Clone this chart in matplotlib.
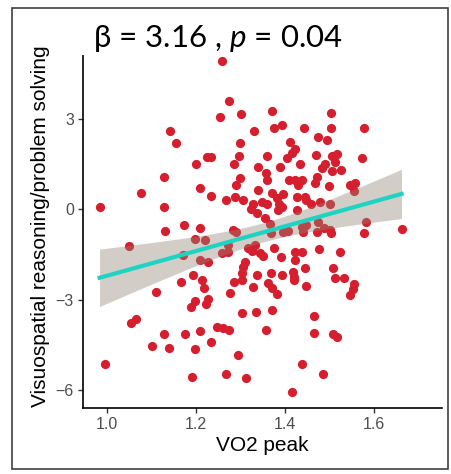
import numpy as np
import matplotlib
matplotlib.use("Agg")
import matplotlib.pyplot as plt
from matplotlib.patches import Rectangle

# VO2 peak vs visuospatial reasoning score
vo2 = [
    1.143, 1.156, 1.201, 1.258, 1.274, 1.253, 1.301, 1.371, 1.330, 1.376,
    1.393, 1.443, 1.300, 1.410, 1.226, 1.235, 1.296, 1.360, 1.422, 1.416,
    1.404, 1.286, 1.339, 1.389, 1.433, 1.503, 1.504, 1.578, 1.474, 1.494,
    1.469, 1.505, 1.516, 1.511, 1.572, 1.489, 1.483, 1.505, 1.526,
    1.128, 1.076, 0.984, 1.128, 1.210, 1.131, 1.173, 1.210, 1.050, 1.197,
    1.171, 1.209, 1.193, 1.167,
    1.111, 1.197, 1.190, 1.065, 1.054, 1.128, 1.176, 1.209, 1.102, 1.140,
    1.197, 0.997, 1.191,
    1.218, 1.286, 1.304, 1.329, 1.361, 1.370, 1.381, 1.276, 1.228, 1.222,
    1.304, 1.334, 1.370, 1.247, 1.261, 1.274, 1.357, 1.233, 1.294, 1.267,
    1.312, 1.439, 1.416, 1.419,
    1.448, 1.513, 1.533, 1.552, 1.546, 1.464, 1.465, 1.507, 1.516, 1.485,
    1.299, 1.291, 1.357, 1.359, 1.409, 1.422, 1.430, 1.235, 1.267, 1.288,
    1.306, 1.340, 1.371, 1.381, 1.396, 1.426, 1.445, 1.329, 1.324, 1.348,
    1.359, 1.336, 1.386, 1.394, 1.385, 1.426, 1.355, 1.366, 1.283, 1.291,
    1.368, 1.396, 1.407, 1.439, 1.441, 1.220, 1.273, 1.333, 1.317, 1.326,
    1.376, 1.258, 1.273, 1.228, 1.309, 1.306, 1.344, 1.351, 1.391, 1.422,
    1.439, 1.422, 1.303, 1.336, 1.368, 1.394, 1.418, 1.421, 1.213,
    1.438, 1.472, 1.468, 1.498, 1.546, 1.557, 1.554, 1.447, 1.457, 1.479,
    1.501, 1.447, 1.474, 1.472, 1.487, 1.501, 1.504, 1.581, 1.576, 1.661,
    1.477, 1.524, 1.445, 1.507, 1.554,
]
score = [
    2.60, 2.19, 1.50, 4.93, 3.60, 3.06, 3.16, 3.26, 2.61, 2.71,
    2.80, 2.70, 2.20, 2.25, 1.75, 1.75, 1.78, 1.78, 2.00, 1.88,
    1.69, 1.50, 1.42, 1.40, 1.50, 3.21, 2.69, 2.71, 2.39, 2.30,
    1.79, 1.77, 1.84, 1.58, 1.69, 1.50, 1.37, 1.27, 1.31,
    1.08, 0.53, 0.09, 0.09, 0.70, -0.72, -0.52, -0.61, -1.21, -0.99,
    -1.52, -1.70, -2.18, -2.42,
    -2.74, -3.04, -3.24, -3.64, -3.79, -4.14, -4.14, -4.04, -4.54, -4.60,
    -4.65, -5.15, -5.56,
    -2.62, -2.41, -2.35, -2.57, -2.46, -2.62, -2.81, -2.79, -2.99, -3.15,
    -3.44, -3.40, -3.35, -3.90, -3.95, -4.01, -4.01, -4.40, -4.84, -5.47,
    -5.59, -5.15, -6.07, -2.35,
    -2.54, -2.28, -2.28, -2.65, -2.84, -3.53, -4.10, -4.14, -4.25, -5.46,
    1.03, 0.81, 1.20, 0.97, 0.97, 0.97, 0.81, 0.45, 0.31, 0.42,
    0.31, 0.64, 0.53, 0.39, 0.50, 0.42, 0.42, 0.18, 0.01, 0.25,
    0.17, -0.13, 0.17, 0.09, -0.02, -0.02, -0.30, -0.50, -0.69, -0.74,
    -0.80, -0.74, -0.72, -0.58, -0.74, -1.02, -1.19, -1.19, -1.30, -1.39,
    -1.30, -1.46, -1.43, -1.76, -1.74, -1.91, -1.46, -1.54, -1.57, -1.43,
    -1.43, -1.68, -2.13, -2.18, -2.13, -2.18, -2.07, -2.24, -2.35,
    0.97, 1.08, 0.86, 0.78, 0.81, 0.86, 0.61, 0.31, 0.17, 0.23,
    0.17, -0.52, -0.41, -0.74, -0.63, -0.69, -0.80, -0.43, -0.80, -0.66,
    -1.32, -1.43, -1.94, -1.96, -2.49,
]

x_ticks = [1.0, 1.2, 1.4, 1.6]
y_ticks = [-6, -3, 0, 3]

plt.rcParams["font.family"] = ["Liberation Sans", "DejaVu Sans"]
plt.rcParams["mathtext.fontset"] = "custom"
plt.rcParams["mathtext.rm"] = "Lato"
plt.rcParams["mathtext.it"] = "Lato:italic"

x = np.array(vo2)
y = np.array(score)

# linear fit with 95% confidence band (like geom_smooth(method = "lm"))
slope, intercept = np.polyfit(x, y, 1)
xs = np.linspace(x.min(), x.max(), 100)
fit = intercept + slope * xs
n = len(x)
resid = y - (intercept + slope * x)
s = np.sqrt(np.sum(resid ** 2) / (n - 2))
sxx = np.sum((x - x.mean()) ** 2)
se = s * np.sqrt(1 / n + (xs - x.mean()) ** 2 / sxx)
t = 1.97

W, H = 451, 474
fig = plt.figure(figsize=(W / 100, H / 100), dpi=100)
ax = fig.add_axes([83 / W, 1 - 408 / H, (442 - 83) / W, (408 - 44) / H])

ax.scatter(x, y, s=44, color="#D51F2E", linewidths=0, zorder=2)
ax.fill_between(xs, fit - t * se, fit + t * se, color="#918473", alpha=0.4,
                linewidth=0, zorder=3)
ax.plot(xs, fit, color="#1FD3C3", linewidth=3, zorder=4)

ax.set_xlim(0.9469, 1.7518)
ax.set_ylim(-6.60, 5.49)
ax.set_xticks(x_ticks)
ax.set_xticklabels([f"{v:.1f}" for v in x_ticks])
ax.set_yticks(y_ticks)
ax.set_yticklabels([f"\u2212{abs(v)}" if v < 0 else str(v) for v in y_ticks])
ax.tick_params(colors="#333333", labelcolor="#4D4D4D", labelsize=11.5,
               length=3.5, width=1, pad=3)
for side in ["top", "right"]:
    ax.spines[side].set_visible(False)
for side in ["left", "bottom"]:
    ax.spines[side].set_linewidth(1.2)
    ax.spines[side].set_color("black")

ax.set_xlabel("VO2 peak", fontsize=15, labelpad=3)
ax.set_ylabel("Visuospatial reasoning/problem solving", fontsize=15, labelpad=4)

# white title box sitting over the top of the panel
fig.patches.append(Rectangle((75 / W, 1 - 55 / H), 290 / W, 45 / H,
                             transform=fig.transFigure, facecolor="white",
                             edgecolor="none", zorder=5))
fig.text(93 / W, 1 - 47 / H, r"β = 3.16 , $p$ = 0.04", family="Lato",
         fontsize=22.5, va="baseline", ha="left", zorder=6)

# outer frame
fig.patches.append(Rectangle((12 / W, 1 - 469 / H), (448 - 12) / W, (469 - 8) / H,
                             transform=fig.transFigure, facecolor="none",
                             edgecolor="#404040", linewidth=1.2, zorder=7))

fig.savefig("out.png", dpi=100)
